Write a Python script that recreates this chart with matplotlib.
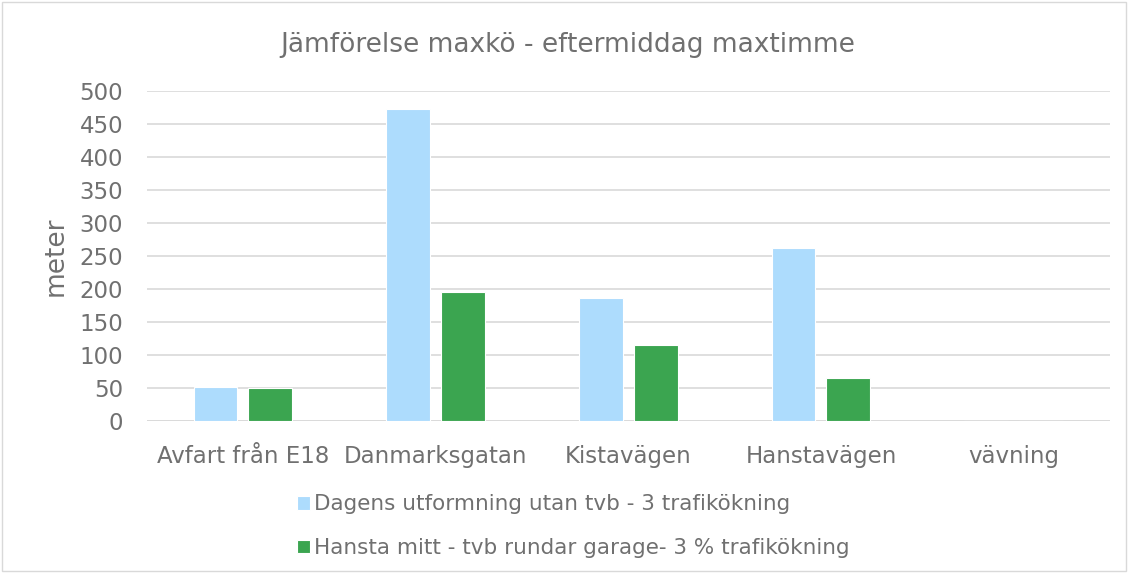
import numpy as np
import matplotlib.pyplot as plt
from matplotlib.patches import Rectangle

categories = ["Avfart från E18", "Danmarksgatan", "Kistavägen", "Hanstavägen", "vävning"]
dagens = [51, 473, 186, 263, 0]
hansta = [50, 196, 115, 66, 0]
series_names = ["Dagens utformning utan tvb - 3 trafikökning",
                "Hansta mitt - tvb rundar garage- 3 % trafikökning"]
yticks = list(range(0, 501, 50))

text_col = "#707070"
blue = "#addcfd"
green = "#3ba550"

fig = plt.figure(figsize=(11.28, 5.73), dpi=100)
ax = fig.add_axes([0.130, 0.265, 0.854, 0.576])

x = np.arange(len(categories))
w = 0.228
off = (w + 0.057) / 2
b1 = ax.bar(x - off, dagens, w, color=blue, edgecolor="white", linewidth=0.8, zorder=3)
b2 = ax.bar(x + off, hansta, w, color=green, edgecolor="white", linewidth=0.8, zorder=3)

ax.set_xlim(-0.5, len(categories) - 0.5)
ax.set_ylim(0, 500)
ax.set_yticks(yticks)
ax.set_xticks(x)
ax.set_xticklabels(categories)
ax.grid(axis="y", color="#d9d9d9", linewidth=1.2, zorder=0)
for s in ax.spines.values():
    s.set_visible(False)
ax.axhline(0, color="#d9d9d9", linewidth=1.2, zorder=2)
ax.tick_params(axis="y", length=0, labelsize=16.5, colors=text_col, pad=17)
ax.tick_params(axis="x", length=0, labelsize=16.5, colors=text_col, pad=17)
ax.set_ylabel("meter", fontsize=19, color=text_col)
ax.yaxis.set_label_coords(-0.081, 0.5)

fig.text(0.503, 0.921, "Jämförelse maxkö - eftermiddag maxtimme", ha="center",
         va="center", fontsize=19, color=text_col)

leg = fig.legend([b1, b2], series_names, loc="upper left", bbox_to_anchor=(0.263, 0.137),
                 frameon=False, fontsize=15.5, labelcolor=text_col, handlelength=0.6,
                 handleheight=0.6, handletextpad=0.2, labelspacing=1.1,
                 borderpad=0, borderaxespad=0)

fig.patches.append(Rectangle((0.002, 0.003), 0.996, 0.994, transform=fig.transFigure,
                             fill=False, edgecolor="#d9d9d9", linewidth=1))

fig.savefig("out.png", dpi=100)
